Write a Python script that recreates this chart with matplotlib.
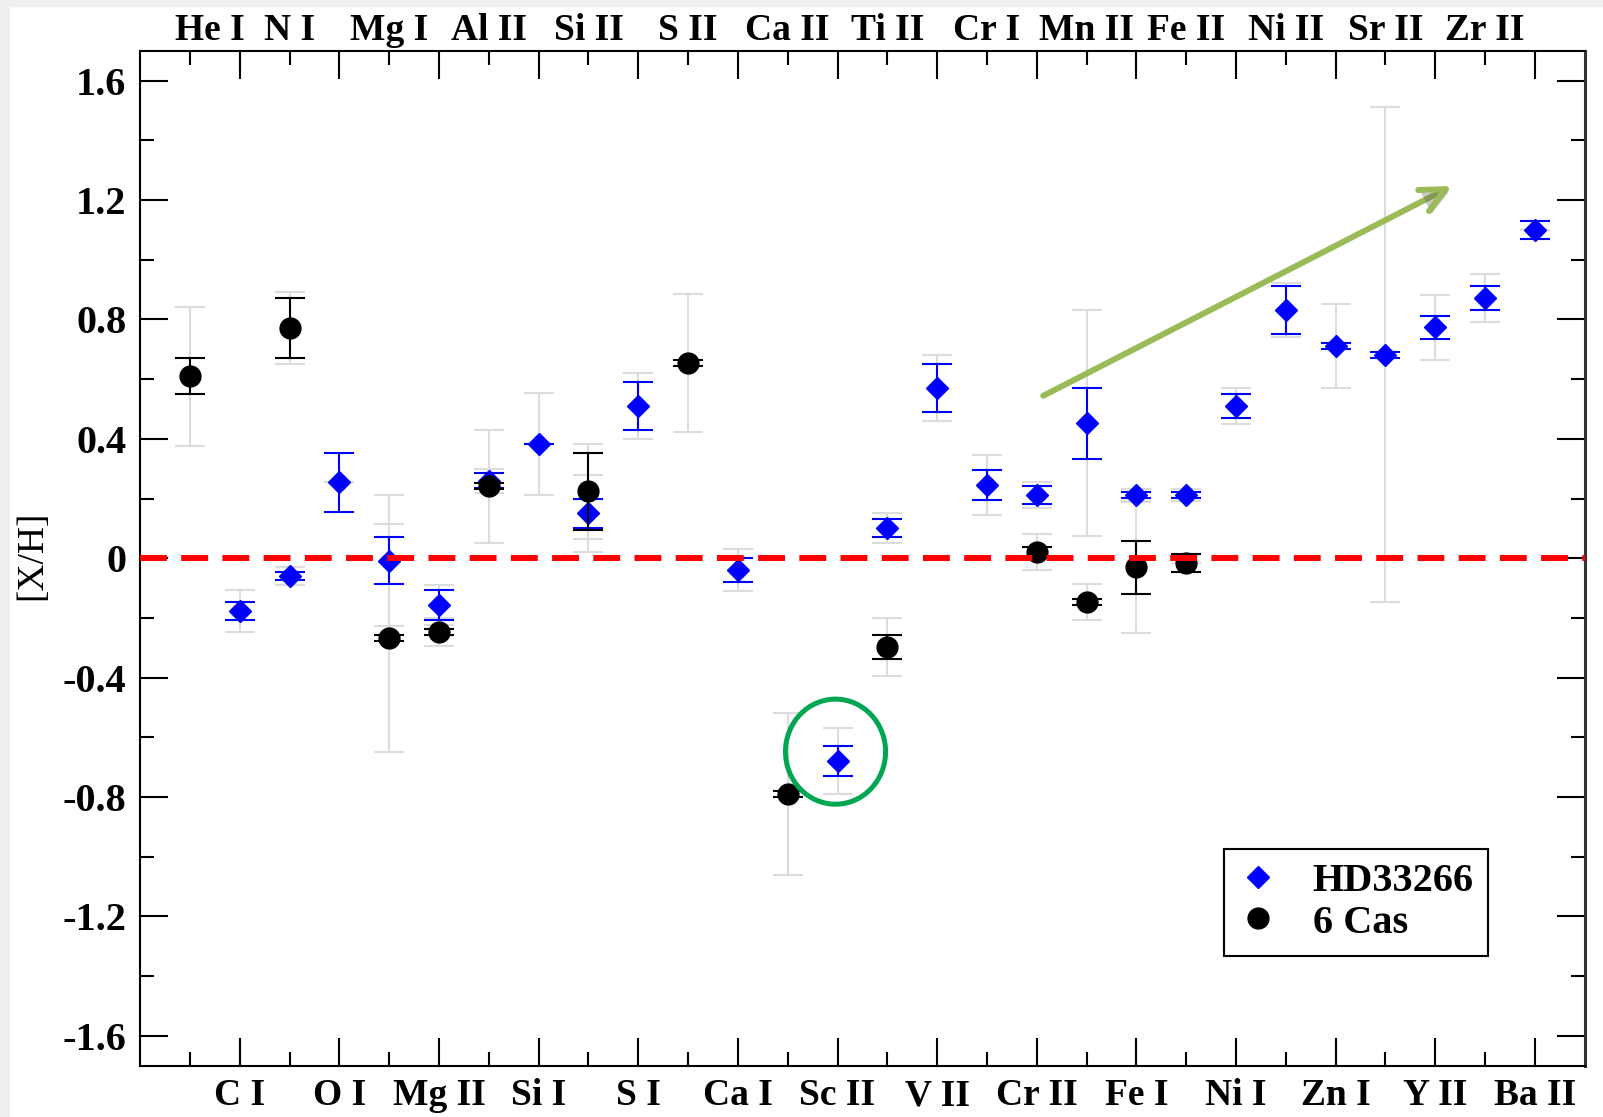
import matplotlib
matplotlib.use("Agg")
import matplotlib.pyplot as plt
import matplotlib.patheffects as pe
from matplotlib.patches import Ellipse, Rectangle

plt.rcParams["font.family"] = ["Liberation Serif", "DejaVu Serif"]

# species, alternating top (odd positions) and bottom (even positions)
top_labels = ["He I", "N I", "Mg I", "Al II", "Si II", "S II", "Ca II",
              "Ti II", "Cr I", "Mn II", "Fe II", "Ni II", "Sr II", "Zr II"]
bottom_labels = ["C I", "O I", "Mg II", "Si I", "S I", "Ca I", "Sc II",
                 "V II", "Cr II", "Fe I", "Ni I", "Zn I", "Y II", "Ba II"]
top_pos = list(range(1, 28, 2))
bottom_pos = list(range(2, 29, 2))

# HD33266 (blue diamonds)
hd_pos = [2, 3, 4, 5, 6, 7, 8, 9, 10, 12, 14, 15, 16, 17, 18, 19, 20, 21,
          22, 23, 24, 25, 26, 27, 28]
hd_val = [-0.177, -0.06, 0.254, -0.008, -0.157, 0.26, 0.383, 0.15, 0.51,
          -0.04, -0.68, 0.10, 0.57, 0.245, 0.211, 0.452, 0.213, 0.213,
          0.511, 0.832, 0.711, 0.682, 0.773, 0.872, 1.10]
hd_err = [0.03, 0.014, 0.10, 0.08, 0.05, 0.025, 0.0, 0.05, 0.08, 0.04,
          0.05, 0.03, 0.08, 0.05, 0.03, 0.118, 0.01, 0.01, 0.04, 0.08,
          0.01, 0.01, 0.04, 0.04, 0.03]
hd_total = [0.07, 0.03, 0.0, 0.22, 0.068, 0.04, 0.17, 0.13, 0.11, 0.07,
            0.11, 0.05, 0.11, 0.10, 0.043, 0.378, 0.02, 0.02, 0.06, 0.09,
            0.14, 0.828, 0.11, 0.08, 0.0]

# 6 Cas (black circles)
cas_pos = [1, 3, 5, 6, 7, 9, 11, 13, 15, 18, 19, 20, 21]
cas_val = [0.61, 0.771, -0.268, -0.248, 0.241, 0.224, 0.654, -0.789,
           -0.297, 0.021, -0.148, -0.031, -0.016]
cas_err = [0.06, 0.10, 0.01, 0.01, 0.01, 0.13, 0.01, 0.01, 0.04, 0.015,
           0.01, 0.09, 0.03]
cas_total = [0.233, 0.12, 0.382, 0.047, 0.19, 0.16, 0.232, 0.272, 0.098,
             0.06, 0.06, 0.22, 0.0]

yticks = [-1.6, -1.2, -0.8, -0.4, 0.0, 0.4, 0.8, 1.2, 1.6]
ytick_labels = ["-1.6", "-1.2", "-0.8", "-0.4", "0", "0.4", "0.8", "1.2", "1.6"]

GRAY = "#dcdcdc"
BLUE = "#0000ff"

fig = plt.figure(figsize=(16.03, 11.17), dpi=100)
fig.patches.append(Rectangle((0, 0), 9 / 1603, 1, transform=fig.transFigure,
                             color="#efefef", zorder=0))
fig.patches.append(Rectangle((0, 1 - 6 / 1117), 1, 6 / 1117,
                             transform=fig.transFigure, color="#efefef", zorder=0))

ax = fig.add_axes([0.0875, 0.0459, 0.901, 0.9087])
ax.set_xlim(0, 29)
ax.set_ylim(-1.7, 1.7)

cap = 11
ax.errorbar(hd_pos, hd_val, yerr=hd_total, fmt="none", ecolor=GRAY,
            elinewidth=1.5, capsize=cap, capthick=1.5, zorder=1)
ax.errorbar(cas_pos, cas_val, yerr=cas_total, fmt="none", ecolor=GRAY,
            elinewidth=1.5, capsize=cap, capthick=1.5, zorder=1)
ax.errorbar(hd_pos, hd_val, yerr=hd_err, fmt="none", ecolor=BLUE,
            elinewidth=1.5, capsize=cap, capthick=1.5, zorder=2)
ax.plot(hd_pos, hd_val, linestyle="none", marker="D", ms=11, color=BLUE,
        label="HD33266", zorder=2.5)
ax.errorbar(cas_pos, cas_val, yerr=cas_err, fmt="none", ecolor="black",
            elinewidth=1.5, capsize=cap, capthick=1.5, zorder=3)
ax.plot(cas_pos, cas_val, linestyle="none", marker="o", ms=15, color="black",
        label="6 Cas", zorder=3.5)

ax.axhline(0, color="#ff0000", lw=4.3, dashes=(4.5, 2.4), zorder=5)

# annotations
ann = ax.annotate("", xy=(26.34, 1.247), xytext=(18.13, 0.544),
                  arrowprops=dict(arrowstyle="->,head_length=1.8,head_width=0.85",
                                  color="#9bbb59", lw=4.3, shrinkA=0, shrinkB=0),
                  zorder=6)
ann.arrow_patch.set_path_effects([pe.SimplePatchShadow(offset=(2, -2), alpha=0.3),
                                  pe.Normal()])
ax.add_patch(Ellipse((13.96, -0.648), width=2.01, height=0.352, fill=False,
                     edgecolor="#00a651", lw=3.6, zorder=6))

# axes styling
ax.set_xticks(bottom_pos, labels=bottom_labels)
ax.set_xticks(top_pos, minor=True)
ax.set_yticks(yticks, labels=ytick_labels)
ax.set_yticks([-1.4, -1.0, -0.6, -0.2, 0.2, 0.6, 1.0, 1.4], minor=True)
ax.tick_params(which="both", direction="in", top=True, right=True, width=1.5)
ax.tick_params(which="major", length=20)
ax.tick_params(which="minor", length=10)
ax.tick_params(axis="x", which="major", labelsize=27, pad=9)
ax.tick_params(axis="y", which="major", labelsize=29, pad=10)
for lab in ax.get_xticklabels() + ax.get_yticklabels():
    lab.set_fontweight("bold")
for sp in ax.spines.values():
    sp.set_linewidth(1.5)
ax.spines["right"].set_linewidth(2.2)
ax.spines["right"].set_color("#333333")

# top labels sit on the odd positions; He I is drawn slightly to the right
top_label_pos = [p + (0.4 if p == 1 else 0.0) for p in top_pos]
secax = ax.secondary_xaxis("top")
secax.set_xticks(top_label_pos, labels=top_labels)
secax.tick_params(length=0, labelsize=27, pad=2)
secax.spines["top"].set_visible(False)
for lab in secax.get_xticklabels():
    lab.set_fontweight("bold")

fig.text(0.02, 0.503, "[X/H]", rotation=90, fontsize=27, ha="center", va="center")

leg = ax.legend(loc="upper left", bbox_to_anchor=(0.7503, 0.2135),
                borderaxespad=0, fancybox=False, edgecolor="black",
                framealpha=1, prop={"size": 29, "weight": "bold"},
                handlelength=1.0, handletextpad=0.85, borderpad=0.35,
                labelspacing=0.1)
leg.get_frame().set_linewidth(1.5)

fig.savefig("out.png", dpi=100)
